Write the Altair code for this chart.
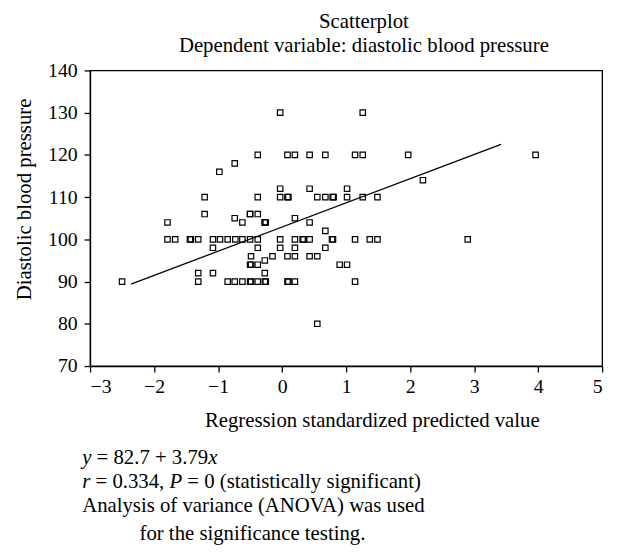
import altair as alt
import pandas as pd

# Scatter points (standardized predicted value, diastolic blood pressure)
x_vals = [
    -2.50, -1.79, -1.79, -1.67, -1.44, -1.425, -1.31, -1.31, -1.31, -1.21, -1.21,
    -1.08, -1.08, -1.08, -0.98, -0.97, -0.85, -0.85, -0.74, -0.74, -0.74, -0.73,
    -0.62, -0.62, -0.62, -0.50, -0.50, -0.50, -0.485, -0.50, -0.485, -0.50, -0.485,
    -0.38, -0.38, -0.38, -0.38, -0.38, -0.38, -0.38,
    -0.27, -0.27, -0.255, -0.27, -0.27, -0.255, -0.27,
    -0.15, -0.03, -0.03, -0.03, -0.03, -0.03,
    0.084, 0.099, 0.084, 0.084, 0.099, 0.084,
    0.20, 0.20, 0.20, 0.20, 0.20, 0.20,
    0.32, 0.335, 0.43, 0.43, 0.43, 0.43, 0.43,
    0.55, 0.55, 0.55, 0.676, 0.676, 0.676, 0.676,
    0.78, 0.795, 0.79, 0.805, 0.90, 1.015, 1.015, 1.015,
    1.14, 1.14, 1.14, 1.26, 1.26, 1.26, 1.37, 1.49, 1.49,
    1.97, 2.20, 2.90, 3.96,
]
y_vals = [
    90, 104, 100, 100, 100, 100, 100, 92, 90, 110, 106,
    100, 98, 92, 116, 100, 100, 90, 118, 105, 90, 100,
    104, 100, 90, 106, 106, 94, 94, 100, 96, 90, 90,
    120, 110, 106, 100, 98, 94, 90,
    104, 104, 104, 95, 92, 90, 90,
    96, 130, 112, 110, 100, 98,
    120, 110, 110, 96, 90, 90,
    120, 105, 100, 98, 96, 90,
    100, 100, 120, 112, 104, 100, 96,
    110, 96, 80, 120, 110, 102, 98,
    100, 100, 110, 110, 94, 112, 110, 94,
    120, 100, 90, 130, 120, 110, 100, 110, 100,
    120, 114, 100, 120,
]

# Fitted line end points
line_x = [-2.36, 3.42]
line_y = [89.4, 122.5]

x_ticks = [-3, -2, -1, 0, 1, 2, 3, 4, 5]
y_ticks = [70, 80, 90, 100, 110, 120, 130, 140]

title_lines = ["Scatterplot", "Dependent variable: diastolic blood pressure"]
x_title = "Regression standardized predicted value"
y_title = "Diastolic blood pressure"

pts = pd.DataFrame({"x": x_vals, "y": y_vals})
reg = pd.DataFrame({"x": line_x, "y": line_y})

FONT = "Liberation Serif"

xs = alt.Scale(domain=[-3, 5], nice=False, zero=False)
ys = alt.Scale(domain=[70, 140], nice=False, zero=False)

X = alt.X("x:Q", scale=xs, axis=alt.Axis(
    values=x_ticks, title=x_title, titleX=285, titleY=55,
    titleBaseline="middle", titleAlign="center", labelPadding=5))
Y = alt.Y("y:Q", scale=ys, axis=alt.Axis(
    values=y_ticks, title=y_title, titleX=-66, titleY=130, titleAngle=270,
    titleBaseline="middle", titleAlign="center", labelPadding=7))

points = alt.Chart(pts).mark_point(
    shape="square", filled=False, size=30, color="black",
    strokeWidth=1.2, opacity=1
).encode(x=X, y=Y)

line = alt.Chart(reg).mark_line(color="black", strokeWidth=1.3).encode(x=X, y=Y)


def txt(s, x, y, italic=False):
    return alt.Chart(alt.Data(values=[{}])).mark_text(
        text=s, align="left", baseline="middle", font=FONT, fontSize=21,
        fontStyle="italic" if italic else "normal", color="black"
    ).encode(x=alt.value(x), y=alt.value(y))


notes = [
    txt("y", -8, 392, True),
    txt("= 82.7 + 3.79", 6.6, 392),
    txt("x", 119.5, 392, True),
    txt("r", -8, 416, True),
    txt("= 0.334,", 5.5, 416),
    txt("P", 80.3, 416, True),
    txt("= 0 (statistically significant)", 98.4, 416),
    txt("Analysis of variance (ANOVA) was used", -8, 441),
    txt("for the significance testing.", 50, 469),
]

chart = alt.layer(points, line, *notes).properties(
    width=518,
    height=299,
    autosize=alt.AutoSizeParams(type="none"),
    padding={"left": 83, "top": 60, "right": 12, "bottom": 189},
    title=alt.TitleParams(
        text=title_lines, font=FONT, fontSize=21, fontWeight="normal",
        color="black", anchor="middle", dx=18, lineHeight=24, offset=5
    ),
).configure_view(
    stroke="black", strokeWidth=1.3
).configure_axis(
    grid=False,
    domainColor="black", domainWidth=1.3,
    tickColor="black", tickWidth=1.3, tickSize=6,
    labelFont=FONT, labelFontSize=20, labelColor="black",
    titleFont=FONT, titleFontSize=21, titleFontWeight="normal", titleColor="black",
)

chart.save("out.html", embed_options={"renderer": "svg", "actions": False})
